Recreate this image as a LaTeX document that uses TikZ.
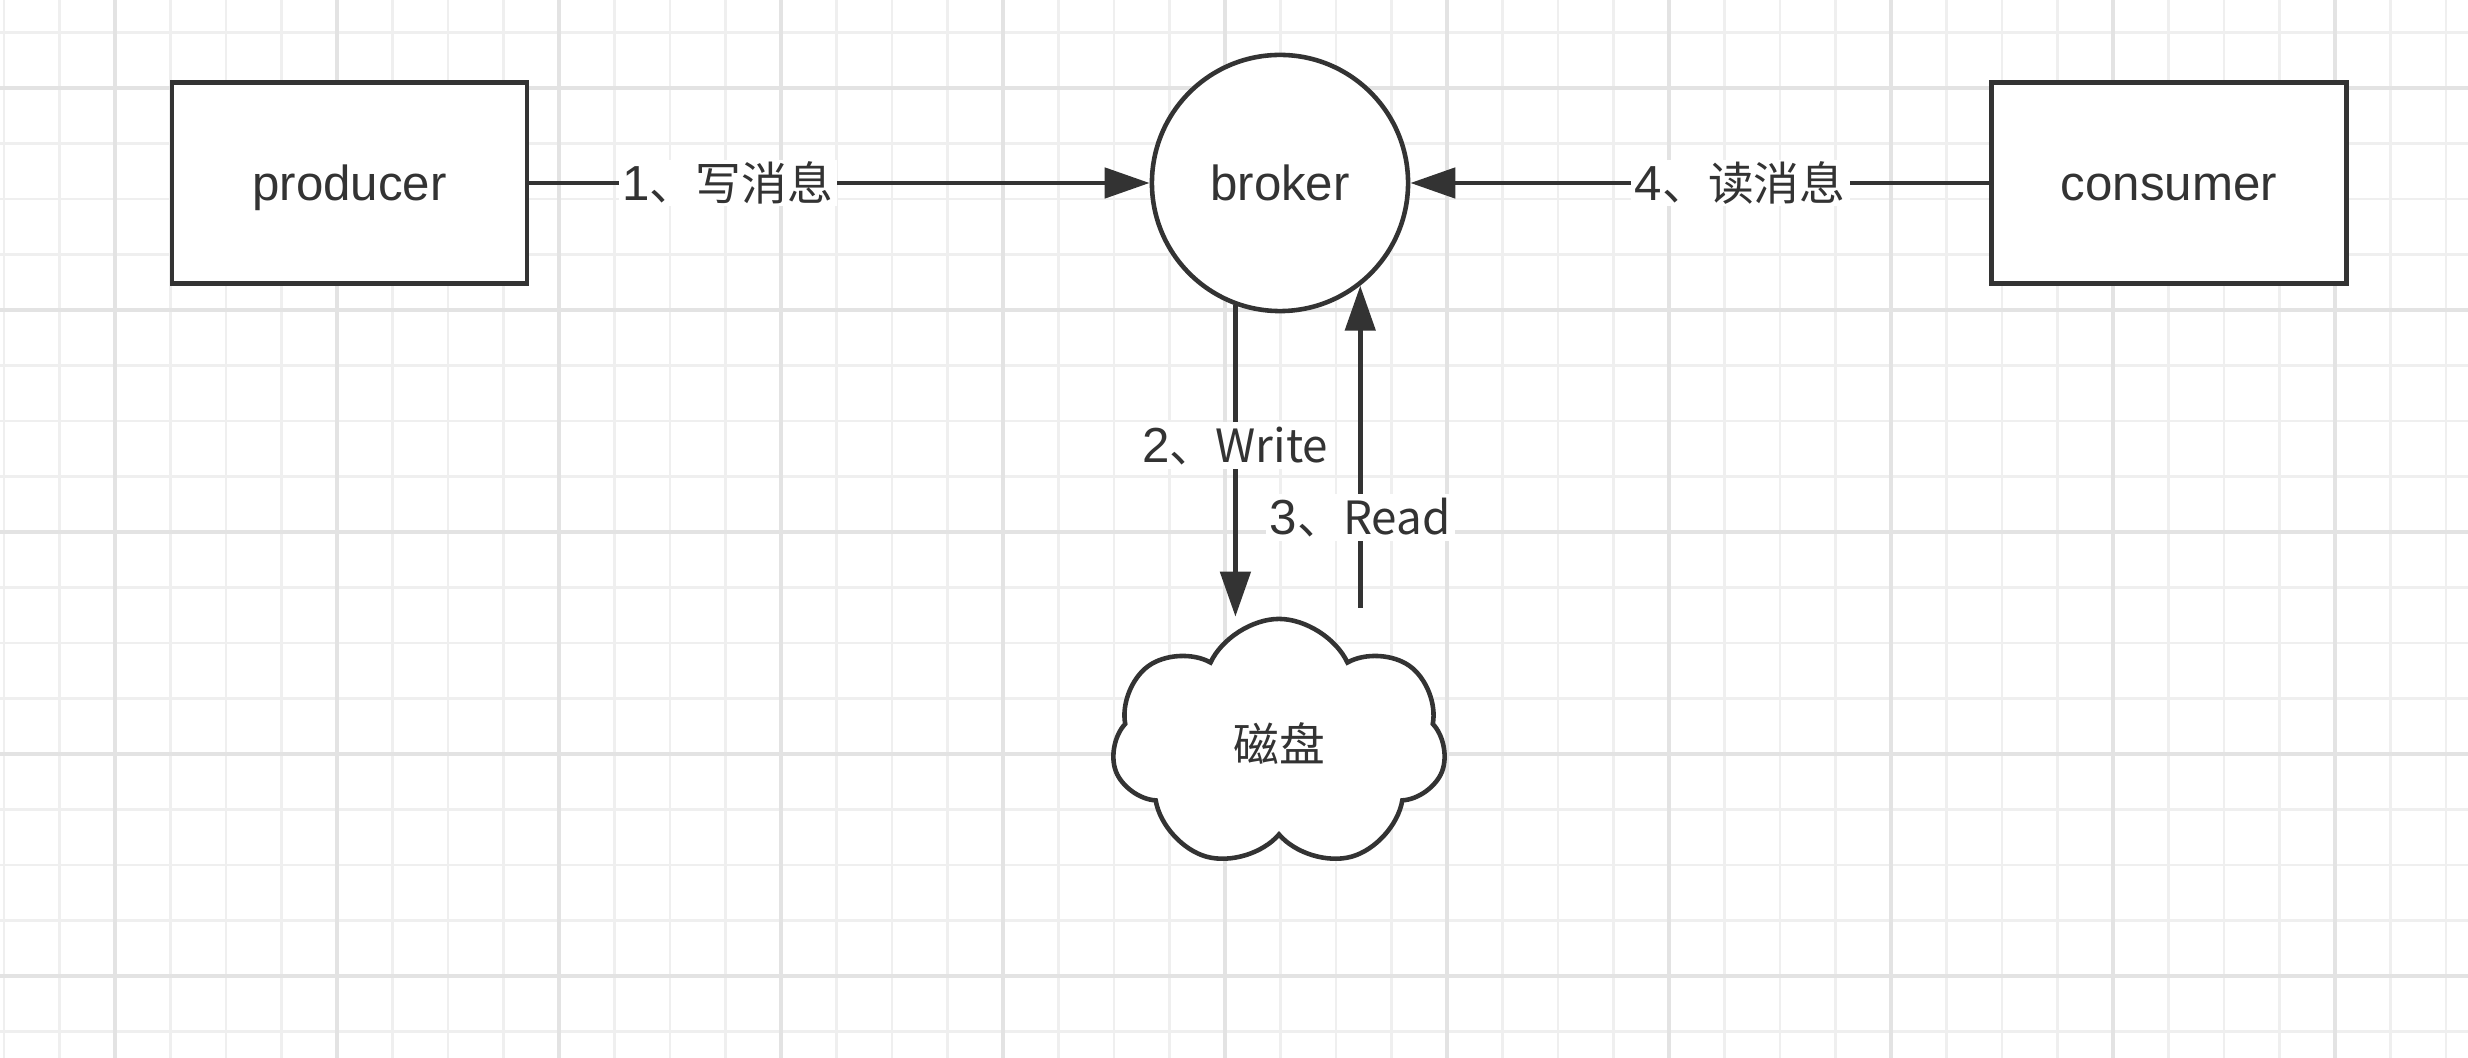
\documentclass[tikz,border=0pt]{standalone}
\usepackage{fontspec}
\setmainfont{Liberation Sans}
\newfontfamily\cjk[Scale=0.93]{Noto Sans CJK SC}
\usetikzlibrary{arrows.meta,shapes.symbols,calc}

\definecolor{gridminor}{HTML}{EFEFEF}
\definecolor{gridmajor}{HTML}{E3E3E3}
\definecolor{ink}{HTML}{333333}

\begin{document}
\begin{tikzpicture}[x=0.01cm,y=-0.01cm,
    every node/.style={text=ink,font=\fontsize{14}{16}\selectfont,text height=0.36cm,text depth=0.02cm},
    box/.style={draw=ink,line width=1.3pt,fill=white,minimum width=3.55cm,minimum height=2.01cm},
    hub/.style={circle,draw=ink,line width=1.3pt,fill=white,minimum size=2.56cm},
    disk/.style={cloud,cloud puffs=7,cloud puff arc=130,shape border rotate=-15,draw=ink,line width=1.3pt,fill=white,
        minimum width=3.34cm,minimum height=2.5cm,cloud ignores aspect},
    arr/.style={draw=ink,line width=1.4pt,-{Triangle[length=0.45cm,width=0.3cm]}},
    lbl/.style={fill=white,inner sep=0.04cm}]
    \fill[white] (0,0) rectangle (2468,1058);
    \useasboundingbox (0,0) rectangle (2468,1058);
    % grid
    \foreach \x in {4,59.5,...,2468} \draw[gridminor,line width=0.6pt] (\x,0) -- (\x,1058);
    \foreach \y in {32.5,88,...,1058} \draw[gridminor,line width=0.6pt] (0,\y) -- (2468,\y);
    \foreach \x in {115,337,...,2468} \draw[gridmajor,line width=1.1pt] (\x,0) -- (\x,1058);
    \foreach \y in {88,310,...,1058} \draw[gridmajor,line width=1.1pt] (0,\y) -- (2468,\y);
    % nodes
    \node[box] (producer) at (349.5,183) {producer};
    \node[hub] (broker) at (1280,183) {broker};
    \node[box] (consumer) at (2169,183) {consumer};
    \node[disk] (disk) at (1279,744) {\cjk 磁盘};
    % connectors
    \draw[arr] (producer) -- node[lbl,pos=0.32] {1\cjk{、写消息}} (broker);
    \draw[arr] (consumer) -- node[lbl,pos=0.43] {4\cjk{、读消息}} (broker);
    \draw[arr] (broker.250) -- node[lbl,pos=0.45] {2\cjk{、}Write} (broker.250 |- disk.north);
    \draw[arr] ($(broker.308 |- disk.north)+(0,-9)$) -- node[lbl,pos=0.28] {3\cjk{、}Read} (broker.308);
\end{tikzpicture}
\end{document}
